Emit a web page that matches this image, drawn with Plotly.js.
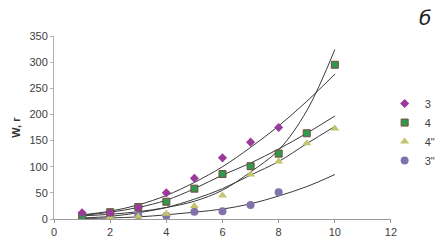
<!DOCTYPE html>
<html>
<head>
<meta charset="utf-8">
<script src="https://cdn.plot.ly/plotly-3.0.1.min.js"></script>
<style>html,body{margin:0;padding:0;background:#fff;}#chart{width:443px;height:243px;}</style>
</head>
<body>
<div id="chart"></div>
<script>
// Data points
var x3 = [1, 2, 3, 4, 5, 6, 7, 8];
var y3 = [12, 12, 22, 50, 78, 117, 147, 175];
var x4 = [1, 2, 3, 4, 5, 6, 7, 8, 9, 10];
var y4 = [5, 13, 23, 33, 58, 86, 101, 125, 164, 295];
var x4b = [1, 2, 3, 4, 5, 6, 7, 8, 9, 10];
var y4b = [2, 3, 5, 10, 25, 45, 85, 110, 145, 173];
var x3b = [1, 2, 3, 4, 5, 6, 7, 8];
var y3b = [5, 9, 7, 6, 14, 15, 27, 51];
// Trend lines
var xTrend = [1, 2, 3, 4, 5, 6, 7, 8, 9, 10];
var trendA = [8, 15, 27, 45, 70, 100, 137, 178, 225, 277];
var trendB = [6, 9, 14, 22, 34, 55, 90, 132, 207, 324];
var trendC = [7, 13, 22, 36, 58, 84, 107, 134, 164, 197];
var trendD = [2, 5, 12, 22, 38, 58, 84, 110, 144, 177];
var trendE = [1, 2, 4, 8, 13, 19, 29, 44, 62, 85];
var names = ['3', '4', '4"', '3"'];

var lineStyle = {color: '#3a3a3a', width: 1, shape: 'spline'};
function trend(y) {
  return {x: xTrend, y: y, mode: 'lines', line: lineStyle, showlegend: false, hoverinfo: 'skip'};
}
var traces = [
  trend(trendA), trend(trendB), trend(trendC), trend(trendD), trend(trendE),
  {x: x3b, y: y3b, name: names[3], mode: 'markers', legendgroup: 'd', legendrank: 4,
   marker: {symbol: 'circle', size: 8, color: '#8272AA'}},
  {x: x4b, y: y4b, name: names[2], mode: 'markers', legendgroup: 'c', legendrank: 3,
   marker: {symbol: 'triangle-up', size: 8, color: '#C2C46E'}},
  {x: x4, y: y4, name: names[1], mode: 'markers', legendgroup: 'b', legendrank: 2,
   marker: {symbol: 'square', size: 7, color: '#2E9A50', line: {color: '#7a4a3a', width: 1}}},
  {x: x3, y: y3, name: names[0], mode: 'markers', legendgroup: 'a', legendrank: 1,
   marker: {symbol: 'diamond', size: 7, color: '#9A3A9A'}}
];

var tickFont = {family: 'Liberation Sans, Arial, sans-serif', size: 11, color: '#404040'};
var layout = {
  width: 443, height: 243,
  margin: {l: 54, r: 0, t: 36, b: 24},
  paper_bgcolor: '#fff', plot_bgcolor: '#fff',
  showlegend: true,
  legend: {x: 0.85, y: 0.71, xanchor: 'left', yanchor: 'top', font: tickFont,
           tracegroupgap: 9, itemwidth: 30, traceorder: 'normal', bgcolor: 'rgba(0,0,0,0)'},
  xaxis: {domain: [0, 0.8663], range: [0, 12], dtick: 2, tick0: 0, showgrid: false, zeroline: false,
          showline: true, linecolor: '#9a9a9a', linewidth: 1,
          ticks: 'outside', ticklen: 3, tickcolor: '#9a9a9a', tickfont: tickFont},
  yaxis: {range: [0, 350], dtick: 50, tick0: 0, showgrid: false, zeroline: false,
          showline: true, linecolor: '#b0b0b0', linewidth: 1,
          ticks: 'outside', ticklen: 3, tickcolor: '#b0b0b0', tickfont: tickFont,
          title: {text: '<b>W, г</b>', font: {family: 'Liberation Sans, Arial, sans-serif', size: 11, color: '#333'}, standoff: 6}},
  annotations: [{xref: 'paper', yref: 'paper', x: 0.954, y: 1.098, xanchor: 'center', yanchor: 'middle',
                 text: '<i>б</i>', showarrow: false,
                 font: {family: 'DejaVu Sans, sans-serif', size: 20, color: '#222'}}]
};
Plotly.newPlot('chart', traces, layout, {displayModeBar: false, staticPlot: true});
</script>
</body>
</html>
